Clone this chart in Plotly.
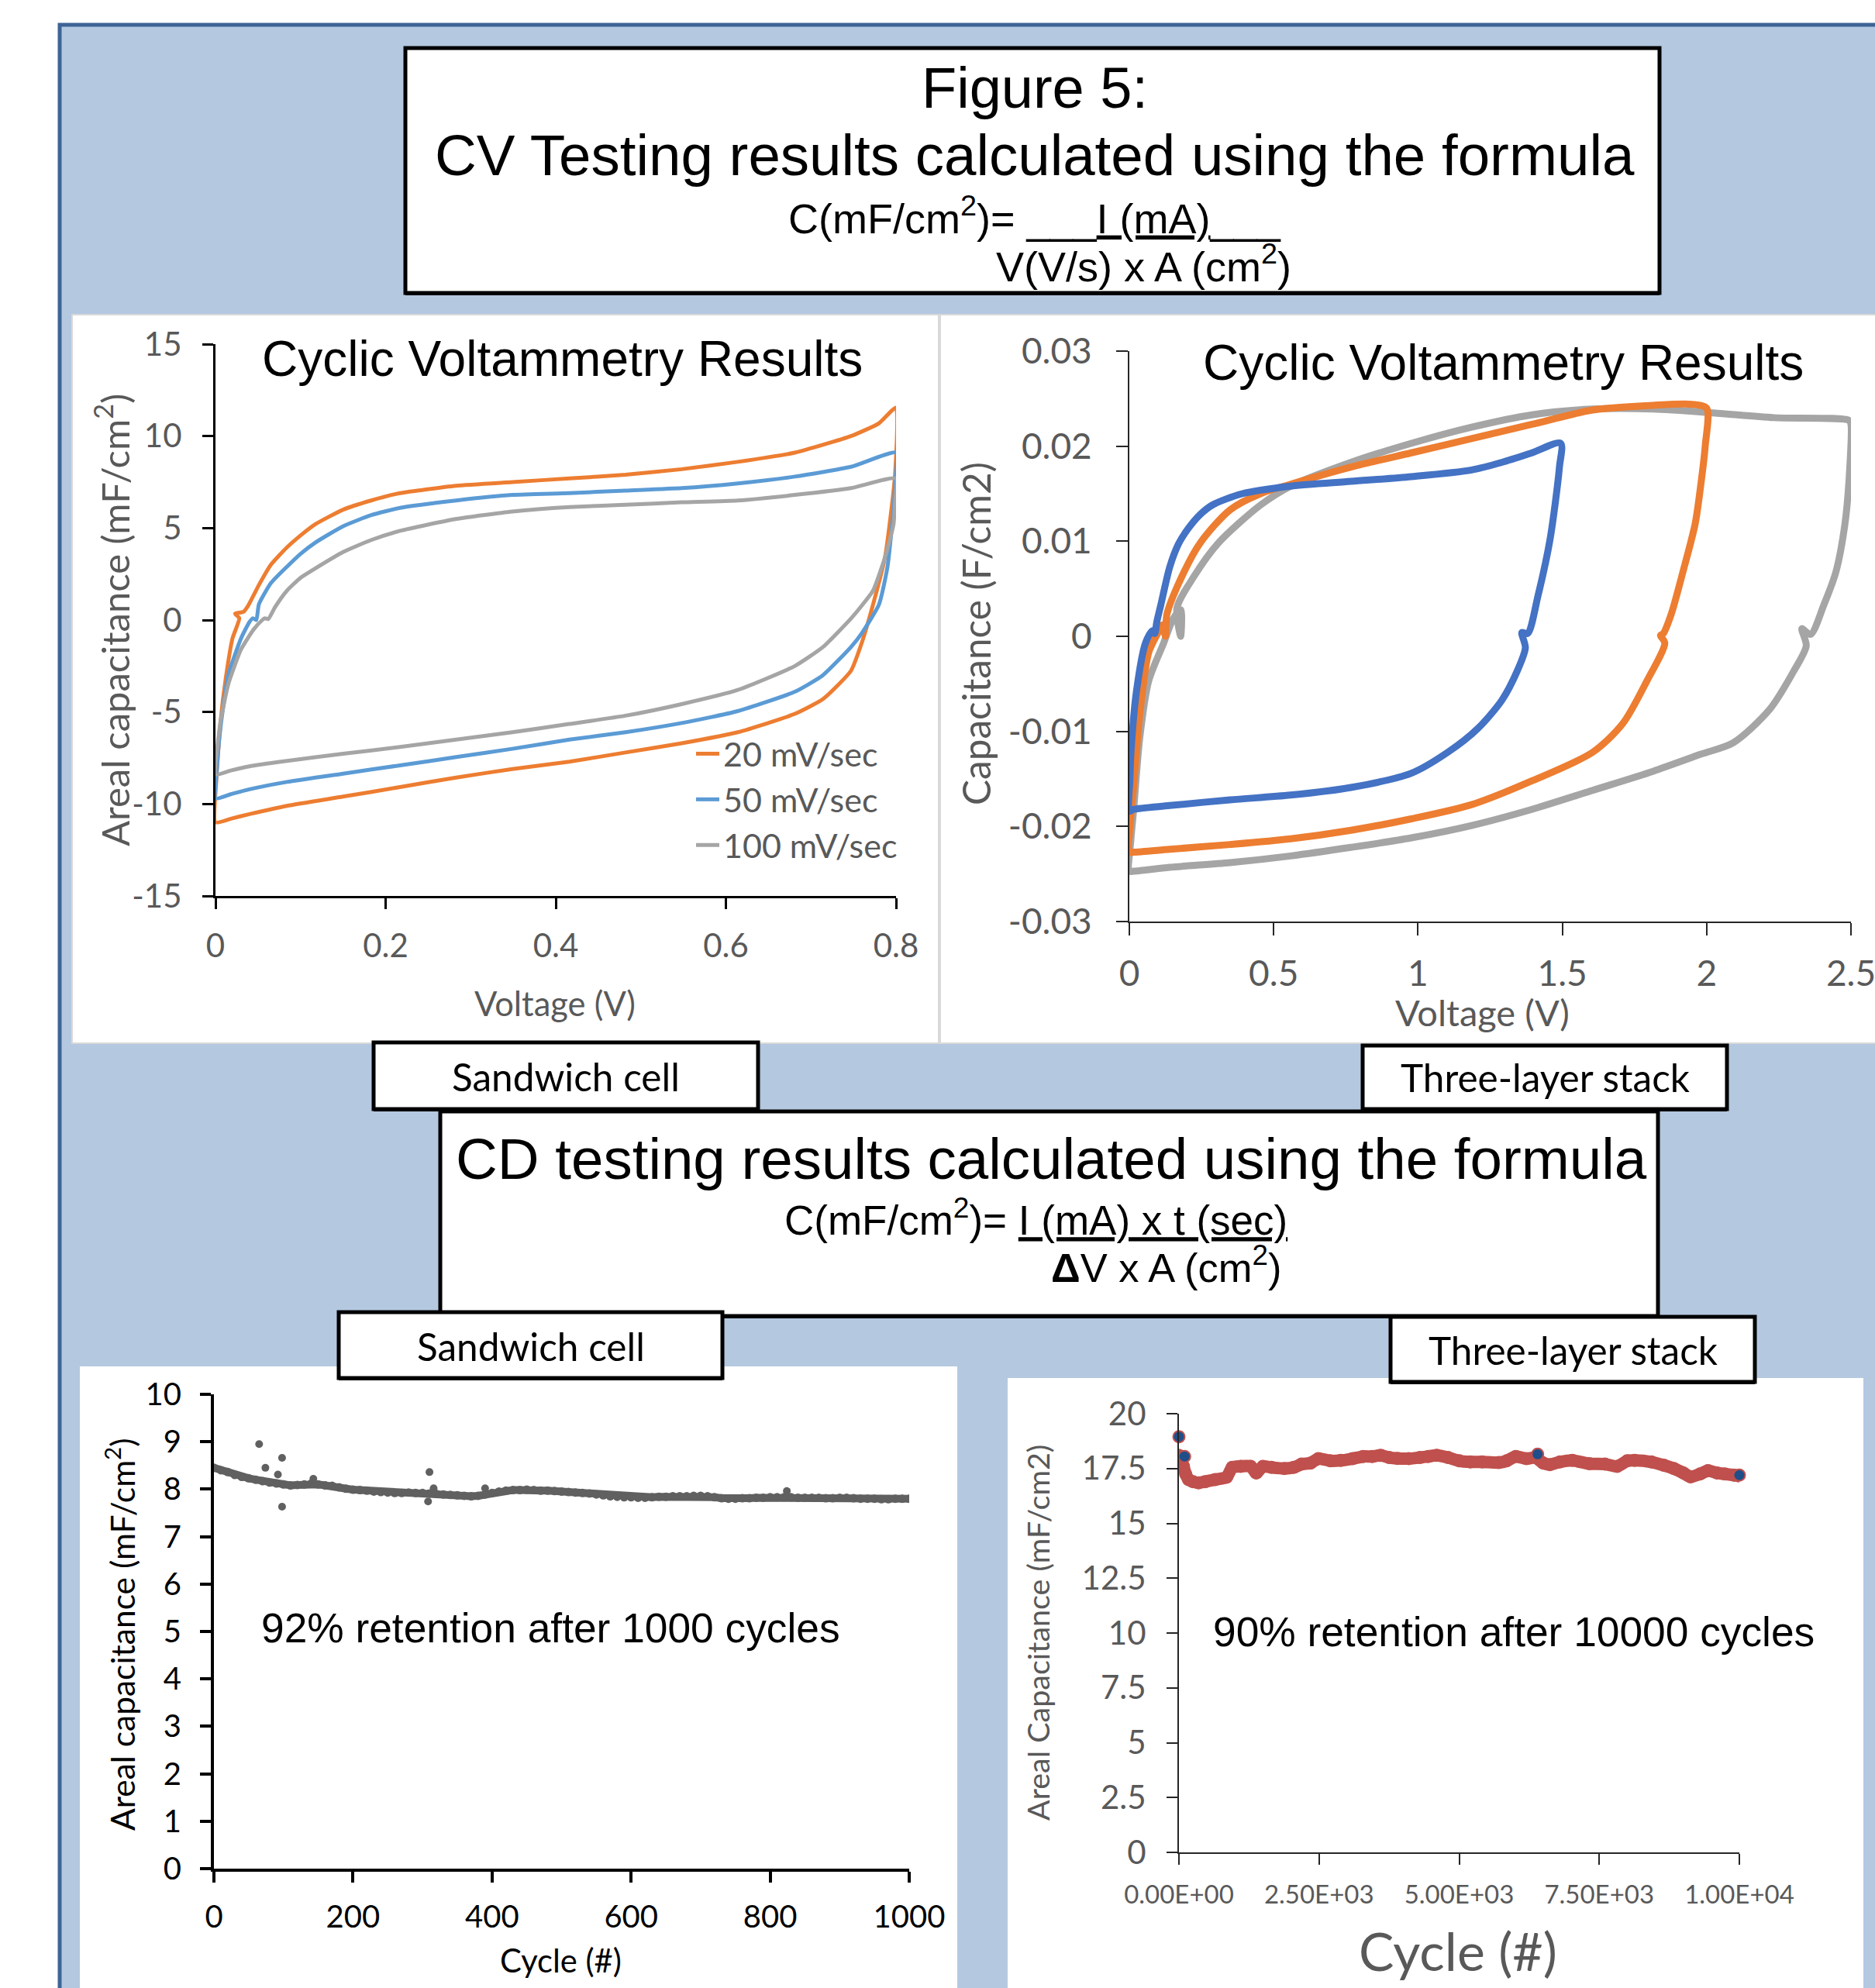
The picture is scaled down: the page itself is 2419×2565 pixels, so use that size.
import plotly.graph_objects as go

W, H = 2419, 2565

# ---------------- DATA ----------------
# Sandwich cell CV (mF/cm^2) vs Voltage (V)
cv_sand_v20 = [0.000, 0.001, 0.006, 0.012, 0.020, 0.028, 0.023, 0.033, 0.038, 0.051, 0.065, 0.084, 0.100, 0.117, 0.150,
               0.183, 0.217, 0.283, 0.349, 0.416, 0.482, 0.548, 0.614, 0.681, 0.747, 0.780, 0.800, 0.799, 0.794, 0.787,
               0.773, 0.760, 0.747, 0.714, 0.681, 0.614, 0.548, 0.482, 0.416, 0.349, 0.283, 0.217, 0.150, 0.084, 0.040,
               0.018, 0.000]
cv_sand_c20 = [-11.0, -8.7, -5.5, -3.2, -1.0, 0.1, 0.35, 0.45, 0.75, 1.9, 3.0, 3.95, 4.6, 5.2, 6.0,
               6.5, 6.9, 7.3, 7.5, 7.7, 7.9, 8.2, 8.6, 9.1, 10.0, 10.7, 11.55, 8.0, 5.8, 3.4,
               0.85, -1.2, -2.76, -4.3, -5.1, -6.1, -6.7, -7.2, -7.7, -8.1, -8.56, -9.08, -9.6, -10.1, -10.55,
               -10.8, -11.0]
cv_sand_v50 = [0.000, 0.001, 0.006, 0.015, 0.030, 0.040, 0.044, 0.048, 0.051, 0.065, 0.084, 0.100, 0.117, 0.150, 0.183,
               0.217, 0.283, 0.349, 0.416, 0.482, 0.548, 0.614, 0.681, 0.747, 0.800, 0.799, 0.797, 0.790, 0.780, 0.760,
               0.747, 0.714, 0.681, 0.614, 0.548, 0.482, 0.416, 0.349, 0.283, 0.217, 0.150, 0.084, 0.040, 0.018, 0.000]
cv_sand_c50 = [-9.7, -8.5, -5.8, -3.0, -1.0, -0.1, 0.1, 0.0, 0.85, 2.0, 2.9, 3.6, 4.2, 5.1, 5.7,
               6.1, 6.5, 6.8, 6.9, 7.04, 7.17, 7.43, 7.8, 8.33, 9.1, 7.5, 6.0, 2.9, 0.85, -0.7,
               -1.47, -3.0, -3.9, -4.95, -5.6, -6.1, -6.5, -7.0, -7.45, -7.9, -8.35, -8.8, -9.2, -9.47, -9.7]
cv_sand_v100 = [0.000, 0.001, 0.006, 0.015, 0.030, 0.045, 0.055, 0.058, 0.062, 0.070, 0.084, 0.100, 0.117, 0.150, 0.183,
                0.217, 0.283, 0.349, 0.416, 0.482, 0.548, 0.614, 0.681, 0.747, 0.800, 0.799, 0.797, 0.787, 0.773, 0.760,
                0.747, 0.714, 0.681, 0.614, 0.548, 0.482, 0.416, 0.349, 0.283, 0.217, 0.150, 0.084, 0.040, 0.018, 0.000]
cv_sand_c100 = [-8.4, -7.4, -5.5, -3.5, -1.6, -0.5, 0.0, 0.1, 0.05, 0.7, 1.6, 2.3, 2.8, 3.7, 4.35,
                4.85, 5.5, 5.9, 6.14, 6.27, 6.4, 6.5, 6.8, 7.17, 7.7, 6.5, 5.2, 3.4, 1.6, 0.8,
                0.08, -1.47, -2.5, -3.8, -4.57, -5.2, -5.65, -6.1, -6.5, -6.9, -7.27, -7.66, -7.95, -8.18, -8.4]
cv_sand_names = ["20 mV/sec", "50 mV/sec", "100 mV/sec"]

# Three-layer stack CV (F/cm^2) vs Voltage (V)
cv_stack_v15 = [0.000, 0.002, 0.006, 0.025, 0.056, 0.080, 0.088, 0.095, 0.109, 0.140, 0.170, 0.203, 0.245, 0.287, 0.391,
                0.559, 0.768, 0.977, 1.186, 1.291, 1.395, 1.494, 1.490, 1.458, 1.416, 1.380, 1.360, 1.372, 1.343, 1.291,
                1.207, 1.103, 0.977, 0.768, 0.559, 0.349, 0.140, 0.015, 0.000]
cv_stack_c15 = [-0.0184, -0.0150, -0.0120, -0.0057, -0.0007, 0.0006, 0.0003, 0.0015, 0.0033, 0.0073, 0.0097, 0.0113,
                0.0128, 0.0138, 0.0150, 0.0158, 0.0163, 0.0168, 0.0175, 0.0183, 0.0193, 0.0203, 0.0178, 0.0103,
                0.0043, 0.0003, 0.0004, -0.0012, -0.0037, -0.0067, -0.0097, -0.0122, -0.0144, -0.0159, -0.0167,
                -0.0172, -0.0178, -0.0182, -0.0184]
cv_stack_v20 = [0.000, 0.005, 0.015, 0.036, 0.067, 0.098, 0.115, 0.125, 0.130, 0.182, 0.245, 0.349, 0.454, 0.559, 0.768,
                0.977, 1.186, 1.395, 1.605, 1.814, 1.950, 2.000, 1.995, 1.980, 1.960, 1.918, 1.877, 1.850, 1.840, 1.855,
                1.793, 1.709, 1.605, 1.395, 1.186, 0.977, 0.768, 0.559, 0.349, 0.140, 0.015, 0.000]
cv_stack_c20 = [-0.0227, -0.0190, -0.0157, -0.0082, -0.0017, 0.0003, 0.0012, 0.0000, 0.0023, 0.0063, 0.0098, 0.0133,
                0.0150, 0.0160, 0.0178, 0.0193, 0.0208, 0.0223, 0.0238, 0.0243, 0.0244, 0.0240, 0.0200, 0.0160,
                0.0118, 0.0068, 0.0023, 0.0003, 0.0001, -0.0007, -0.0047, -0.0092, -0.0122, -0.0152, -0.0177,
                -0.0192, -0.0204, -0.0213, -0.0219, -0.0224, -0.0227, -0.0227]
cv_stack_v25 = [0.000, 0.005, 0.015, 0.036, 0.067, 0.119, 0.151, 0.178, 0.178, 0.165, 0.224, 0.308, 0.454, 0.559, 0.768,
                0.977, 1.186, 1.395, 1.605, 1.814, 2.023, 2.232, 2.494, 2.500, 2.494, 2.479, 2.448, 2.406, 2.360, 2.330,
                2.345, 2.301, 2.218, 2.092, 1.980, 1.814, 1.605, 1.395, 1.186, 0.977, 0.768, 0.559, 0.349, 0.140,
                0.015, 0.000]
cv_stack_c25 = [-0.0247, -0.0215, -0.0182, -0.0107, -0.0047, -0.0007, 0.0018, 0.0028, 0.0000, 0.0030, 0.0063, 0.0098,
                0.0138, 0.0158, 0.0183, 0.0203, 0.0220, 0.0233, 0.0239, 0.0239, 0.0235, 0.0230, 0.0227, 0.0223,
                0.0168, 0.0118, 0.0068, 0.0033, 0.0002, 0.0008, -0.0010, -0.0037, -0.0077, -0.0112, -0.0124,
                -0.0142, -0.0162, -0.0182, -0.0199, -0.0212, -0.0222, -0.0231, -0.0238, -0.0243, -0.0247, -0.0247]

# Sandwich cell cycling (every 10 cycles)
cd_sand_cycle = list(range(0, 1001, 10))
cd_sand_cap = [8.45, 8.40, 8.36, 8.30, 8.26, 8.23, 8.20, 8.17, 8.14, 8.12, 8.10, 8.08, 8.09, 8.10, 8.12, 8.10, 8.08,
               8.07, 8.04, 8.01, 7.99, 7.98, 7.97, 7.95, 7.94, 7.93, 7.92, 7.92, 7.93, 7.92, 7.92, 7.91, 7.90, 7.89,
               7.88, 7.87, 7.86, 7.85, 7.86, 7.89, 7.92, 7.95, 7.97, 7.98, 7.98, 7.99, 7.98, 7.97, 7.97, 7.96, 7.95,
               7.94, 7.93, 7.92, 7.91, 7.89, 7.87, 7.85, 7.84, 7.83, 7.83, 7.82, 7.82, 7.83, 7.84, 7.84, 7.85, 7.85,
               7.85, 7.86, 7.86, 7.85, 7.83, 7.81, 7.80, 7.80, 7.81, 7.81, 7.82, 7.82, 7.83, 7.83, 7.83, 7.83, 7.82,
               7.82, 7.82, 7.82, 7.81, 7.81, 7.82, 7.82, 7.81, 7.80, 7.80, 7.80, 7.79, 7.79, 7.80, 7.80, 7.80]
cd_sand_out_cycle = [65, 74, 92, 98, 98, 143, 308, 310, 316, 390, 824]
cd_sand_out_cap = [8.95, 8.45, 8.31, 8.66, 7.63, 8.22, 7.74, 8.36, 8.02, 8.02, 7.96]

# Three-layer stack cycling
cd_stack_cycle = [0, 40, 80, 120, 170, 250, 350, 470, 650, 850, 950, 1100, 1280, 1380, 1500, 1650, 1880, 2050, 2190,
                  2350, 2490, 2700, 2890, 3100, 3290, 3450, 3600, 3750, 3900, 4100, 4300, 4450, 4600, 4800, 5000,
                  5200, 5410, 5710, 5850, 6010, 6200, 6360, 6500, 6620, 6800, 7020, 7320, 7600, 7820, 8000, 8130,
                  8430, 8650, 8830, 9000, 9130, 9300, 9440, 9600, 9740, 9900, 10000]
cd_stack_cap = [18.1, 17.9, 17.6, 17.25, 17.0, 16.9, 16.85, 16.9, 17.0, 17.1, 17.55, 17.6, 17.6, 17.3, 17.6, 17.55,
                17.5, 17.55, 17.7, 17.75, 17.95, 17.85, 17.87, 17.95, 18.05, 18.05, 18.1, 18.0, 17.96, 17.95, 18.0,
                18.05, 18.1, 18.0, 17.85, 17.8, 17.8, 17.77, 17.85, 18.05, 17.95, 18.0, 17.75, 17.68, 17.8, 17.87,
                17.72, 17.7, 17.6, 17.85, 17.87, 17.8, 17.65, 17.5, 17.3, 17.12, 17.25, 17.4, 17.3, 17.25, 17.2,
                17.16]
cd_stack_blue_cycle = [0, 100, 6400, 10000]
cd_stack_blue_cap = [18.95, 18.05, 18.15, 17.2]

# Tick labels
cv_sand_xticks = [0, 0.2, 0.4, 0.6, 0.8]
cv_sand_xlabels = ["0", "0.2", "0.4", "0.6", "0.8"]
cv_sand_yticks = [-15, -10, -5, 0, 5, 10, 15]
cv_sand_ylabels = ["-15", "-10", "-5", "0", "5", "10", "15"]
cv_stack_xticks = [0, 0.5, 1, 1.5, 2, 2.5]
cv_stack_xlabels = ["0", "0.5", "1", "1.5", "2", "2.5"]
cv_stack_yticks = [-0.03, -0.02, -0.01, 0, 0.01, 0.02, 0.03]
cv_stack_ylabels = ["-0.03", "-0.02", "-0.01", "0", "0.01", "0.02", "0.03"]
cd_sand_xticks = [0, 200, 400, 600, 800, 1000]
cd_sand_xlabels = ["0", "200", "400", "600", "800", "1000"]
cd_sand_yticks = list(range(0, 11))
cd_sand_ylabels = [str(v) for v in cd_sand_yticks]
cd_stack_xticks = [0, 2500, 5000, 7500, 10000]
cd_stack_xlabels = ["0.00E+00", "2.50E+03", "5.00E+03", "7.50E+03", "1.00E+04"]
cd_stack_yticks = [0, 2.5, 5, 7.5, 10, 12.5, 15, 17.5, 20]
cd_stack_ylabels = ["0", "2.5", "5", "7.5", "10", "12.5", "15", "17.5", "20"]

# ---------------- HELPERS ----------------
def fx(p):
    return p / W


def fy(p):
    return 1 - p / H


ARIAL = "Liberation Sans, Arial, sans-serif"
CALIBRI = "Lato, Carlito, Calibri, sans-serif"
GRAY = "#595959"
ORANGE = "#ED7D31"
BLUE_L = "#5B9BD5"
GRAY_L = "#A5A5A5"
BLUE_S = "#4472C4"

fig = go.Figure()

# ---------------- TRACES ----------------
for v, c, col, name in [(cv_sand_v20, cv_sand_c20, ORANGE, cv_sand_names[0]),
                        (cv_sand_v50, cv_sand_c50, BLUE_L, cv_sand_names[1]),
                        (cv_sand_v100, cv_sand_c100, GRAY_L, cv_sand_names[2])]:
    fig.add_trace(go.Scatter(x=v, y=c, mode="lines", name=name, xaxis="x", yaxis="y",
                             line=dict(color=col, width=5, shape="spline", smoothing=0.5), showlegend=True))

for v, c, col in [(cv_stack_v25, cv_stack_c25, GRAY_L),
                  (cv_stack_v20, cv_stack_c20, ORANGE),
                  (cv_stack_v15, cv_stack_c15, BLUE_S)]:
    fig.add_trace(go.Scatter(x=v, y=c, mode="lines", xaxis="x2", yaxis="y2", showlegend=False,
                             line=dict(color=col, width=9, shape="spline", smoothing=0.8)))

fig.add_trace(go.Scatter(x=cd_sand_cycle, y=cd_sand_cap, mode="lines+markers", xaxis="x3", yaxis="y3",
                         showlegend=False, line=dict(color="#606060", width=10),
                         marker=dict(color="#606060", size=11)))
fig.add_trace(go.Scatter(x=cd_sand_out_cycle, y=cd_sand_out_cap, mode="markers", xaxis="x3", yaxis="y3",
                         showlegend=False, marker=dict(color="#606060", size=10)))

fig.add_trace(go.Scatter(x=cd_stack_cycle, y=cd_stack_cap, mode="lines+markers", xaxis="x4", yaxis="y4",
                         showlegend=False, line=dict(color="#C0504D", width=16, shape="spline", smoothing=0.6),
                         marker=dict(color="#C0504D", size=17)))
fig.add_trace(go.Scatter(x=cd_stack_blue_cycle, y=cd_stack_blue_cap, mode="markers", xaxis="x4", yaxis="y4",
                         showlegend=False, cliponaxis=False,
                         marker=dict(color="#1F4E89", size=15, line=dict(color="#C0504D", width=2))))


# ---------------- AXES ----------------
def axis(domain, rng, tv, tt, anchor, lc, lw, tl, fs, fc, standoff):
    return dict(domain=domain, range=rng, tickmode="array", tickvals=tv, ticktext=tt, anchor=anchor,
                showline=True, linecolor=lc, linewidth=lw, ticks="outside", ticklen=tl, tickwidth=lw,
                tickcolor=lc, showgrid=False, zeroline=False, fixedrange=True, automargin=False,
                ticklabeloverflow="allow",
                tickfont=dict(family=CALIBRI, size=fs, color=fc), ticklabelstandoff=standoff)


fig.update_layout(
    xaxis=axis([fx(278), fx(1156)], [0, 0.8], cv_sand_xticks, cv_sand_xlabels, "y", "black", 3, 14, 42, GRAY, 12),
    yaxis=axis([fy(1156), fy(444)], [-15, 15], cv_sand_yticks, cv_sand_ylabels, "x", "black", 3, 14, 42, GRAY, 18),
    xaxis2=axis([fx(1457), fx(2388)], [0, 2.5], cv_stack_xticks, cv_stack_xlabels, "y2", "#262626", 2, 16, 46, GRAY, 10),
    yaxis2=axis([fy(1189), fy(453)], [-0.03, 0.03], cv_stack_yticks, cv_stack_ylabels, "x2", "#262626", 2, 15, 46, GRAY, 22),
    xaxis3=axis([fx(276), fx(1173)], [0, 1000], cd_sand_xticks, cd_sand_xlabels, "y3", "black", 4, 14, 40, "black", 10),
    yaxis3=axis([fy(2411), fy(1799)], [0, 10], cd_sand_yticks, cd_sand_ylabels, "x3", "black", 4, 14, 40, "black", 16),
    xaxis4=axis([fx(1521), fx(2244)], [0, 10000], cd_stack_xticks, cd_stack_xlabels, "y4", "#262626", 2, 14, 33, GRAY, 10),
    yaxis4=axis([fy(2390), fy(1824)], [0, 20], cd_stack_yticks, cd_stack_ylabels, "x4", "#262626", 2, 14, 42, GRAY, 18),
)

# ---------------- SHAPES ----------------
shapes = []


def rect(x0, y0, x1, y1, fill, lc=None, lw=0):
    shapes.append(dict(type="rect", xref="paper", yref="paper", x0=fx(x0), x1=fx(x1), y0=fy(y1), y1=fy(y0),
                       fillcolor=fill, line=dict(color=lc if lc else fill, width=lw), layer="below"))


rect(77, 32, 2440, 2600, "#B4C8E0", "#3E6496", 5)
rect(93, 406, 1211, 1346, "white", "#D9D9D9", 2)
rect(1213, 406, 2430, 1346, "white", "#D9D9D9", 2)
rect(103, 1763, 1235, 2580, "white")
rect(1300, 1778, 2404, 2580, "white")
# text boxes (with a slightly heavier bottom edge)
for (x0, y0, x1, y1) in [(523, 62, 2141, 378), (482, 1345, 978, 1431), (1758, 1349, 2228, 1431),
                         (568, 1434, 2139, 1698), (437, 1693, 932, 1778), (1794, 1699, 2264, 1783)]:
    rect(x0, y0 + 2, x1, y1 + 3, "black")
    rect(x0, y0, x1, y1, "white", "black", 5)
fig.update_layout(shapes=shapes)

# ---------------- TEXT ----------------
ann = []


def text(s, x, y, size, family=ARIAL, color="black", angle=0, xanchor="center"):
    ann.append(dict(text=s, x=fx(x), y=fy(y), xref="paper", yref="paper", showarrow=False, xanchor=xanchor,
                    yanchor="middle", textangle=angle, font=dict(family=family, size=size, color=color)))


U = "<span style='text-decoration:underline'>"
text("Figure 5:", 1335, 114, 74)
text("CV Testing results calculated using the formula", 1335, 201, 74.5)
text("C(mF/cm<sup>2</sup>)= ___" + U + "I (mA)</span>___", 1335, 278, 54)
text("V(V/s) x A (cm<sup>2</sup>)", 1475, 340, 54)
text("CD testing results calculated using the formula", 1356, 1495, 74.5)
text("C(mF/cm<sup>2</sup>)= " + U + "I (mA) x t (sec)</span>", 1336, 1570, 53)
text("<b>Δ</b>V x A (cm<sup>2</sup>)", 1504, 1632, 52.5)

text("Sandwich cell", 730, 1389, 49.5, CALIBRI)
text("Three-layer stack", 1993, 1390, 49.5, CALIBRI)
text("Sandwich cell", 685, 1737, 49.5, CALIBRI)
text("Three-layer stack", 2029, 1742, 49.5, CALIBRI)

text("Cyclic Voltammetry Results", 725, 463, 64)
text("Cyclic Voltammetry Results", 1939, 468, 64)
text("Voltage (V)", 716, 1294, 43.5, CALIBRI, GRAY)
text("Areal capacitance (mF/cm<sup>2</sup>)", 144, 800, 49, CALIBRI, GRAY, -90)
text("Voltage (V)", 1912, 1306, 47, CALIBRI, GRAY)
text("Capacitance (F/cm2)", 1259, 818, 49.5, CALIBRI, GRAY, -90)

text("92% retention after 1000 cycles", 710, 2100, 53.3)
text("Cycle (#)", 723, 2529, 41.7, CALIBRI)
text("Areal capacitance (mF/cm<sup>2</sup>)", 155, 2108, 42.5, CALIBRI, "black", -90)
text("90% retention after 10000 cycles", 1953, 2105, 53.3)
text("Cycle (#)", 1881, 2516, 68, CALIBRI, GRAY)
text("Areal Capacitance (mF/cm2)", 1338, 2107, 39.5, CALIBRI, GRAY, -90)

fig.update_layout(annotations=ann)

fig.update_layout(
    width=W, height=H, margin=dict(l=0, r=0, t=0, b=0, pad=0, autoexpand=False), autosize=False,
    paper_bgcolor="white", plot_bgcolor="rgba(0,0,0,0)",
    legend=dict(x=fx(893), y=fy(938), xanchor="left", yanchor="top", bgcolor="rgba(0,0,0,0)",
                font=dict(family=CALIBRI, size=43, color=GRAY), itemwidth=30, tracegroupgap=0,
                traceorder="normal"),
)

fig.write_html("out.html", config={"displayModeBar": False, "staticPlot": True},
               post_script="document.body.style.margin='0';document.body.style.padding='0';"
                           "document.body.style.overflow='hidden';"
                           "document.documentElement.style.overflow='hidden';")
